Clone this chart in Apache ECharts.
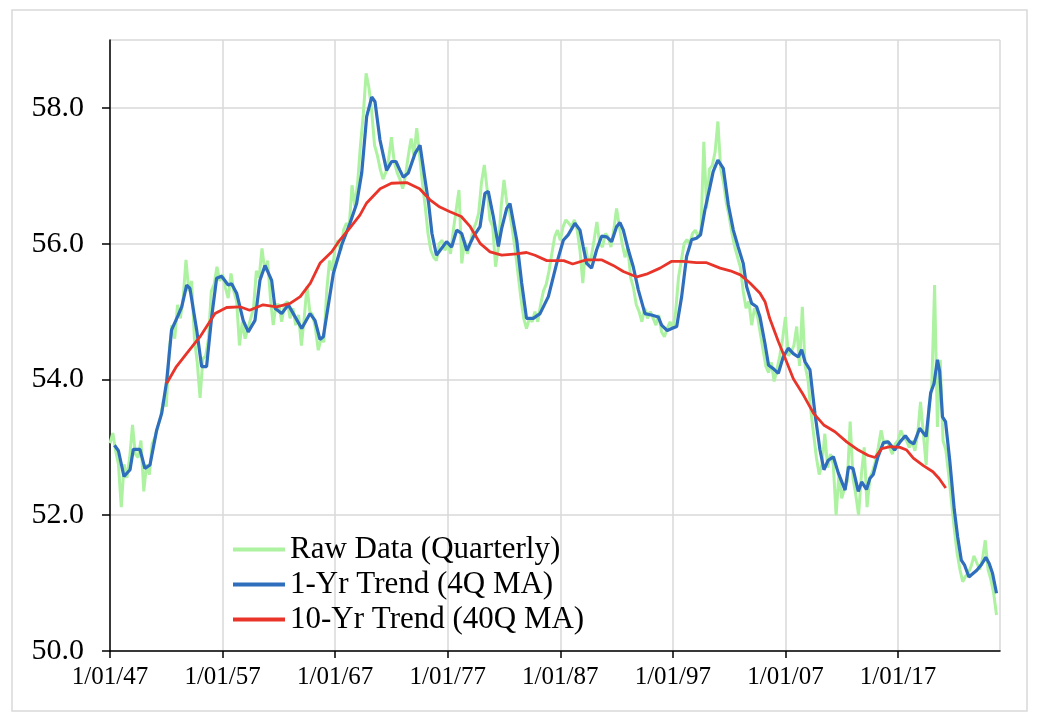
<!DOCTYPE html>
<html>
<head>
<meta charset="utf-8">
<title>Quarterly series with 4Q and 40Q trends</title>
<script src="https://cdn.jsdelivr.net/npm/echarts@6.0.0/dist/echarts.min.js"></script>
<style>
  html, body { margin: 0; padding: 0; background: #fff; }
  #chart { width: 1040px; height: 724px; }
</style>
</head>
<body>
<div id="chart"></div>
<script>
"use strict";

// Raw data, one value per quarter, starting 1947 Q1.
const FIRST_YEAR = 1947;
const rawQuarterly = [
  53.06, 53.21, 52.95, 52.75,   52.12, 52.75, 52.55, 52.85,   53.33, 52.90, 52.85, 53.10,   // 47-49
  52.35, 52.75, 52.60, 53.05,   53.15, 53.30, 53.45, 53.70,   53.60, 54.40, 54.80, 54.60,   // 50-52
  55.10, 54.90, 55.20, 55.76,   55.30, 55.45, 54.60, 54.25,   53.73, 54.30, 54.35, 54.60,   // 53-55
  55.30, 55.40, 55.66, 55.45,   55.55, 55.35, 55.20, 55.56,   55.30, 55.15, 54.50, 54.85,   // 56-58
  54.60, 54.75, 54.90, 55.05,   55.60, 55.50, 55.93, 55.60,   55.75, 55.20, 54.80, 55.10,   // 59-61
  55.10, 54.85, 55.10, 55.15,   54.90, 55.05, 54.80, 54.95,   54.50, 54.90, 55.37, 55.00,   // 62-64
  54.95, 54.75, 54.43, 54.60,   54.55, 55.30, 55.75, 55.60,   55.95, 56.05, 55.90, 56.20,   // 65-67
  56.30, 56.25, 56.86, 56.55,   56.90, 57.45, 57.90, 58.51,   58.30, 57.95, 57.45, 57.30,   // 68-70
  57.10, 56.95, 57.05, 57.25,   57.57, 57.20, 57.05, 56.95,   56.81, 57.00, 57.30, 57.55,   // 71-73
  57.30, 57.70, 57.30, 56.90,   56.55, 56.15, 55.90, 55.80,   55.75, 56.00, 56.05, 55.90,   // 74-76
  56.00, 55.85, 56.20, 56.50,   56.79, 55.71, 56.05, 55.85,   56.00, 56.20, 56.30, 56.45,   // 77-79
  56.90, 57.16, 56.80, 56.35,   56.25, 55.66, 55.95, 56.55,   56.94, 56.60, 56.45, 56.20,   // 80-82
  55.90, 55.55, 55.20, 54.90,   54.75, 54.90, 54.85, 55.00,   54.85, 55.10, 55.30, 55.40,   // 83-85
  55.60, 55.85, 56.10, 56.20,   56.05, 56.25, 56.35, 56.30,   56.25, 56.35, 56.20, 55.90,   // 86-88
  55.42, 55.95, 55.70, 55.80,   56.05, 56.32, 56.00, 55.95,   56.15, 56.10, 55.95, 56.20,   // 89-91
  56.52, 56.25, 56.00, 55.80,   55.95, 55.50, 55.35, 55.10,   55.00, 54.85, 55.05, 54.90,   // 92-94
  55.00, 54.90, 54.80, 54.95,   54.70, 54.63, 54.75, 54.85,   54.75, 55.00, 55.50, 55.75,   // 95-97
  56.00, 56.06, 56.00, 56.15,   56.20, 56.10, 56.20, 57.50,   56.52, 57.10, 57.15, 57.35,   // 98-00
  57.80, 57.10, 56.90, 56.60,   56.40, 56.15, 55.95, 55.80,   55.65, 55.30, 55.05, 55.15,   // 01-03
  54.80, 55.05, 54.95, 54.70,   54.45, 54.20, 54.10, 54.25,   53.97, 54.15, 54.35, 54.60,   // 04-06
  54.92, 54.35, 54.40, 54.50,   54.78, 54.20, 55.07, 54.20,   54.00, 53.55, 53.20, 52.85,   // 07-09
  52.60, 52.75, 53.20, 52.70,   52.90, 52.75, 52.00, 52.60,   52.25, 52.40, 52.50, 53.38,   // 10-12
  52.55, 52.30, 52.00, 52.60,   53.00, 52.12, 52.55, 52.65,   52.80, 53.00, 53.25, 53.05,   // 13-15
  53.10, 53.00, 52.90, 53.05,   53.10, 53.25, 53.15, 53.10,   53.00, 53.10, 52.95, 53.20,   // 16-18
  53.67, 53.20, 52.74, 53.60,   53.90, 55.39, 53.30, 54.29,   53.10, 52.96, 52.60, 52.20,   // 19-21
  51.80, 51.44, 51.20, 51.02,   51.10, 51.15, 51.25, 51.40,   51.30, 51.20, 51.35, 51.63,   // 22-24
  51.20, 51.05, 50.85, 50.53                                                                 // 25
];

// 1-yr trend (4Q MA), [year, value].
const trend4Q = [
  [1947.40, 53.03], [1947.75, 52.95], [1948.24, 52.57], [1948.78, 52.67], [1949.07, 52.97],
  [1949.66, 52.97], [1950.10, 52.69], [1950.55, 52.74], [1951.14, 53.25], [1951.59, 53.50],
  [1952.03, 53.97], [1952.47, 54.73], [1953.07, 54.95], [1953.37, 55.07], [1953.81, 55.39],
  [1954.10, 55.34], [1954.70, 54.73], [1955.14, 54.19], [1955.58, 54.19], [1956.03, 54.92],
  [1956.47, 55.49], [1956.91, 55.52], [1957.50, 55.39], [1957.80, 55.41], [1958.25, 55.27],
  [1958.83, 54.87], [1959.28, 54.70], [1959.88, 54.87], [1960.32, 55.46], [1960.77, 55.68],
  [1961.36, 55.46], [1961.66, 55.05], [1962.25, 54.97], [1962.84, 55.10], [1963.28, 54.97],
  [1964.03, 54.75], [1964.77, 54.97], [1965.21, 54.87], [1965.65, 54.59], [1965.95, 54.63],
  [1966.84, 55.56], [1967.58, 55.98], [1968.32, 56.30], [1968.91, 56.59], [1969.36, 57.04],
  [1969.80, 57.87], [1970.25, 58.16], [1970.54, 58.09], [1970.98, 57.53], [1971.57, 57.08],
  [1972.02, 57.21], [1972.40, 57.21], [1972.76, 57.08], [1973.05, 56.98], [1973.50, 57.04],
  [1974.10, 57.33], [1974.54, 57.45], [1974.98, 56.95], [1975.30, 56.60], [1975.60, 56.15],
  [1976.00, 55.83], [1976.90, 56.03], [1977.35, 55.95], [1977.80, 56.20], [1978.24, 56.15],
  [1978.70, 55.90], [1979.27, 56.10], [1979.87, 56.25], [1980.30, 56.74], [1980.60, 56.77],
  [1981.05, 56.40], [1981.50, 55.96], [1981.80, 56.23], [1982.24, 56.52], [1982.53, 56.59],
  [1983.13, 56.05], [1983.57, 55.42], [1984.00, 54.90], [1984.60, 54.90], [1985.20, 54.97],
  [1985.94, 55.22], [1986.68, 55.71], [1987.27, 56.05], [1987.70, 56.13], [1988.30, 56.30],
  [1988.75, 56.20], [1989.04, 55.95], [1989.34, 55.71], [1989.78, 55.64], [1990.23, 55.91],
  [1990.67, 56.11], [1991.12, 56.10], [1991.56, 56.03], [1992.00, 56.25], [1992.30, 56.31],
  [1992.60, 56.20], [1993.04, 55.91], [1993.48, 55.66], [1993.93, 55.32], [1994.52, 54.97],
  [1995.10, 54.95], [1995.70, 54.92], [1996.00, 54.80], [1996.50, 54.72], [1996.90, 54.75],
  [1997.34, 54.78], [1997.78, 55.22], [1998.22, 55.81], [1998.67, 56.06], [1999.10, 56.08],
  [1999.46, 56.13], [1999.85, 56.50], [2000.30, 56.84], [2000.58, 57.06], [2001.00, 57.23],
  [2001.48, 57.11], [2001.93, 56.57], [2002.37, 56.20], [2002.80, 55.95], [2003.25, 55.71],
  [2003.55, 55.37], [2004.00, 55.12], [2004.44, 55.07], [2004.74, 54.92], [2005.18, 54.53],
  [2005.50, 54.21], [2005.92, 54.16], [2006.37, 54.09], [2006.80, 54.33], [2007.25, 54.46],
  [2007.70, 54.38], [2008.14, 54.33], [2008.44, 54.44], [2008.74, 54.26], [2009.18, 54.14],
  [2009.62, 53.50], [2010.07, 52.96], [2010.42, 52.67], [2010.80, 52.81], [2011.26, 52.86],
  [2011.70, 52.62], [2012.30, 52.37], [2012.60, 52.71], [2013.00, 52.69], [2013.47, 52.35],
  [2013.77, 52.49], [2014.20, 52.38], [2014.50, 52.54], [2014.80, 52.60], [2015.20, 52.85],
  [2015.70, 53.07], [2016.14, 53.08], [2016.70, 52.96], [2017.18, 53.08], [2017.65, 53.17],
  [2018.07, 53.08], [2018.40, 53.05], [2018.92, 53.28], [2019.50, 53.16], [2019.90, 53.80],
  [2020.20, 53.94], [2020.50, 54.29], [2020.70, 54.12], [2020.95, 53.45], [2021.22, 53.38],
  [2021.60, 52.80], [2022.00, 52.08], [2022.30, 51.68], [2022.62, 51.34], [2022.90, 51.27],
  [2023.30, 51.09], [2023.50, 51.12], [2024.00, 51.19], [2024.40, 51.27], [2024.80, 51.38],
  [2025.10, 51.29], [2025.40, 51.14], [2025.75, 50.85]
];

// 10-yr trend (40Q MA), [year, value].
const trend40Q = [
  [1952.03, 53.94], [1952.90, 54.19], [1953.80, 54.38], [1955.00, 54.63], [1956.33, 54.97],
  [1957.36, 55.06], [1958.55, 55.07], [1959.40, 55.02], [1960.60, 55.10], [1961.80, 55.07],
  [1963.00, 55.12], [1963.90, 55.22], [1964.80, 55.42], [1965.65, 55.71], [1966.70, 55.88],
  [1967.40, 56.05], [1968.30, 56.23], [1969.20, 56.42], [1969.80, 56.60], [1971.00, 56.81],
  [1972.00, 56.89], [1973.35, 56.90], [1974.50, 56.81], [1975.40, 56.65], [1976.30, 56.54],
  [1977.20, 56.47], [1978.20, 56.40], [1979.00, 56.25], [1979.90, 56.00], [1980.76, 55.88],
  [1981.80, 55.83], [1983.10, 55.85], [1984.00, 55.87], [1984.75, 55.83], [1985.80, 55.75],
  [1987.30, 55.75], [1988.10, 55.70], [1989.30, 55.76], [1990.70, 55.76], [1991.70, 55.68],
  [1992.60, 55.59], [1993.80, 55.51], [1994.65, 55.55], [1995.86, 55.64], [1996.90, 55.74],
  [1997.90, 55.74], [1999.10, 55.72], [2000.00, 55.72], [2001.20, 55.64], [2002.10, 55.60],
  [2003.00, 55.54], [2003.85, 55.42], [2004.74, 55.27], [2005.20, 55.14], [2005.60, 54.90],
  [2006.37, 54.56], [2007.10, 54.26], [2007.70, 54.01], [2008.60, 53.77], [2009.50, 53.50],
  [2010.40, 53.33], [2011.40, 53.23], [2012.44, 53.08], [2013.47, 52.96], [2014.36, 52.88],
  [2014.96, 52.85], [2015.55, 52.98], [2016.30, 53.01], [2017.18, 53.00], [2017.77, 52.96],
  [2018.36, 52.84], [2019.25, 52.73], [2020.10, 52.64], [2020.65, 52.54], [2021.24, 52.40]
];

const seriesNames = ["Raw Data (Quarterly)", "1-Yr Trend (4Q MA)", "10-Yr Trend (40Q MA)"];
const yTicks = [50, 52, 54, 56, 58];

const rawPoints = rawQuarterly.map((v, i) => [FIRST_YEAR + i * 0.25, v]);

const FONT = "'Liberation Serif', 'Times New Roman', serif";
const chart = echarts.init(document.getElementById("chart"), null, { renderer: "canvas" });

chart.setOption({
  animation: false,
  backgroundColor: "#fff",
  textStyle: { fontFamily: FONT, color: "#000" },
  graphic: [{
    type: "rect", silent: true, z: -10,
    shape: { x: 12, y: 10, width: 1015, height: 701 },
    style: { fill: "none", stroke: "#d9d9d9", lineWidth: 1.5 }
  }],
  grid: { left: 110, right: 40, top: 40, bottom: 73, containLabel: false },
  legend: {
    orient: "vertical", left: 228, top: 529,
    icon: "rect", itemWidth: 52, itemHeight: 4, itemGap: 4,
    textStyle: { fontFamily: FONT, fontSize: 31, lineHeight: 31, color: "#000" },
    data: seriesNames
  },
  xAxis: {
    type: "value", min: FIRST_YEAR, max: 2026.06, interval: 10,
    axisLine: { lineStyle: { color: "#000", width: 1.5 } },
    axisTick: { show: true, length: 7, lineStyle: { color: "#000", width: 1.5 } },
    axisLabel: {
      fontFamily: FONT, fontSize: 25, color: "#000", margin: 14,
      showMaxLabel: false,
      formatter: v => "1/01/" + String(Math.round(v)).slice(2)
    },
    splitLine: { show: true, lineStyle: { color: "#d9d9d9", width: 1.5 } }
  },
  yAxis: {
    type: "value", min: yTicks[0], max: 59, interval: 2,
    axisLine: { show: true, lineStyle: { color: "#000", width: 1.5 } },
    axisTick: { show: true, length: 8, lineStyle: { color: "#000", width: 1.5 } },
    axisLabel: {
      fontFamily: FONT, fontSize: 30, color: "#000", margin: 26,
      showMaxLabel: false,
      formatter: v => v.toFixed(1)
    },
    splitLine: { show: true, lineStyle: { color: "#d9d9d9", width: 1.5 } }
  },
  series: [
    {
      name: seriesNames[0], type: "line", data: rawPoints, symbol: "none",
      lineStyle: { color: "#acf2a0", width: 3 }, itemStyle: { color: "#acf2a0" }
    },
    {
      name: seriesNames[1], type: "line", data: trend4Q, symbol: "none",
      lineStyle: { color: "#2f6ebd", width: 3.2 }, itemStyle: { color: "#2f6ebd" }
    },
    {
      name: seriesNames[2], type: "line", data: trend40Q, symbol: "none",
      lineStyle: { color: "#e9342a", width: 2.8 }, itemStyle: { color: "#e9342a" }
    }
  ]
});
</script>
</body>
</html>
